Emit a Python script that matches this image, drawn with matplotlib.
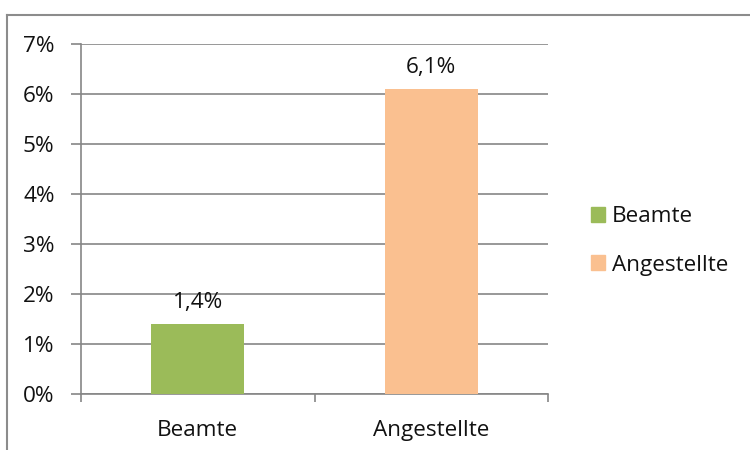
import matplotlib
matplotlib.use("Agg")
import matplotlib.pyplot as plt
from matplotlib.patches import Rectangle
from matplotlib.ticker import FuncFormatter, MultipleLocator

categories = ["Beamte", "Angestellte"]
values = [1.4, 6.1]
colors = ["#9BBB59", "#FAC090"]
value_labels = ["1,4%", "6,1%"]

plt.rcParams["font.family"] = ["Open Sans", "DejaVu Sans"]
FS = 16.2
TXT = "#111111"

fig = plt.figure(figsize=(7.5, 4.5), dpi=100)
W, H = 750, 450

# outer chart frame (top and left edges visible)
fig.add_artist(plt.Line2D([7 / W, 7 / W], [0, 1 - 15 / H], color="#8C8C8C", lw=1.5,
                          transform=fig.transFigure))
fig.add_artist(plt.Line2D([7 / W, 1], [1 - 15 / H, 1 - 15 / H], color="#8C8C8C", lw=1.5,
                          transform=fig.transFigure))

left, right = 81 / W, 548 / W
bottom, top = 1 - 394 / H, 1 - 44 / H
ax = fig.add_axes([left, bottom, right - left, top - bottom])

x = range(len(categories))
bars = ax.bar(x, values, width=0.4, color=colors, zorder=3)
for xi, v, lab in zip(x, values, value_labels):
    ax.annotate(lab, (xi, v), xytext=(0, 8), textcoords="offset points",
                ha="center", va="bottom", fontsize=FS, color=TXT)

ax.set_xlim(-0.5, 1.5)
ax.set_ylim(0, 7)
ax.yaxis.set_major_locator(MultipleLocator(1))
ax.yaxis.set_major_formatter(FuncFormatter(lambda v, p: f"{v:.0f}%"))
ax.grid(axis="y", color="#868686", lw=1.2, zorder=0)

for s in ["top", "right"]:
    ax.spines[s].set_visible(False)
for s in ["left", "bottom"]:
    ax.spines[s].set_color("#868686")
    ax.spines[s].set_linewidth(1.2)

ax.set_xticks([-0.5, 0.5, 1.5])
ax.set_xticks([0, 1], minor=True)
ax.set_xticklabels(["", "", ""])
ax.set_xticklabels(categories, minor=True)
ax.tick_params(axis="x", which="major", length=6, color="#868686", width=1.2)
ax.tick_params(axis="x", which="minor", length=0, pad=19, labelsize=FS,
               labelcolor=TXT)
ax.tick_params(axis="y", length=7, color="#868686", width=1.2, pad=12,
               labelsize=FS, labelcolor=TXT)

handles = [Rectangle((0, 0), 1, 1, color=c) for c in colors]
fig.legend(handles, categories, loc="center left", bbox_to_anchor=(580 / W, 1 - 241 / H),
           frameon=False, fontsize=FS, handlelength=0.62, handleheight=0.62,
           handletextpad=0.3, labelspacing=1.2, borderpad=0, labelcolor=TXT)

fig.savefig("out.png", dpi=100, facecolor="white")
